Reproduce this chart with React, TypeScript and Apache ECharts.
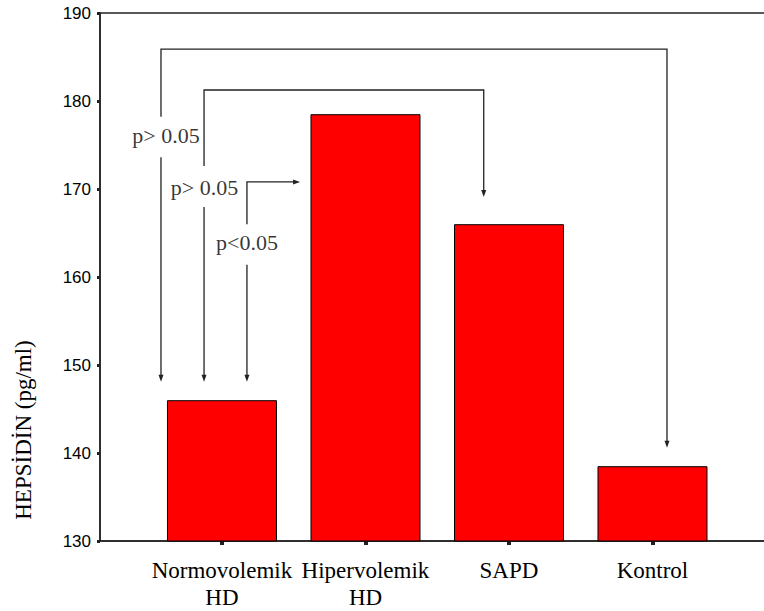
import React, { useEffect, useRef } from "react";
import * as echarts from "echarts";

// ---- Data ----
const categories = ["Normovolemik\nHD", "Hipervolemik\nHD", "SAPD", "Kontrol"];
const categoryPositions = [1, 2, 3, 4];
const hepcidin = [146, 178.5, 166, 138.5];
const yTickMin = 130;
const yTickMax = 190;
const yTickStep = 10;
const yAxisTitle = "HEPSİDİN (pg/ml)";

// ---- Comparison brackets (in data coordinates) ----
const pLabels = ["p> 0.05", "p> 0.05", "p<0.05"];
const pLabelX = [0.61, 0.878, 1.174];
const pLabelY = [176.1, 170.2, 163.9];
const bracketLeftX = [0.575, 0.875, 1.174];
const bracketRightX = [4.101, 2.824, 1.544];
const bracketTopY = [185.9, 181.25, 170.8];
const bracketLeftTipY = [148.1, 148.1, 148.1];
const bracketRightTipY = [140.6, 169.1, 170.8]; // equal to top => horizontal arrow
const gapTopY = [178.2, 172.6, 166.0];
const gapBottomY = [173.6, 167.95, 161.4];

const X_MIN = 0.15;
const X_MAX = 5.0;
const CHART_W = 830;

const LINE_COLOR = "#222";
const ARROW_LEN = 7;
const ARROW_HALF = 2.5;

function renderBracket(params: any, api: any) {
  const i = params.dataIndex;
  const top = bracketTopY[i];
  const horizontalEnd = bracketRightTipY[i] === top;
  const pGapTop = api.coord([bracketLeftX[i], gapTopY[i]]);
  const pTopL = api.coord([bracketLeftX[i], top]);
  const pTopR = api.coord([bracketRightX[i], top]);
  const pGapBot = api.coord([bracketLeftX[i], gapBottomY[i]]);
  const pTipL = api.coord([bracketLeftX[i], bracketLeftTipY[i]]);
  const children: any[] = [];
  const lineStyle = { stroke: LINE_COLOR, lineWidth: 1.3, fill: "none" };
  let upperPts: number[][];
  let rightTipPoly: number[][];
  if (horizontalEnd) {
    upperPts = [pGapTop, pTopL, [pTopR[0] - ARROW_LEN + 1, pTopR[1]]];
    rightTipPoly = [
      pTopR,
      [pTopR[0] - ARROW_LEN, pTopR[1] - ARROW_HALF],
      [pTopR[0] - ARROW_LEN, pTopR[1] + ARROW_HALF],
    ];
  } else {
    const pTipR = api.coord([bracketRightX[i], bracketRightTipY[i]]);
    upperPts = [pGapTop, pTopL, pTopR, [pTipR[0], pTipR[1] - ARROW_LEN + 1]];
    rightTipPoly = [
      pTipR,
      [pTipR[0] - ARROW_HALF, pTipR[1] - ARROW_LEN],
      [pTipR[0] + ARROW_HALF, pTipR[1] - ARROW_LEN],
    ];
  }
  children.push({ type: "polyline", shape: { points: upperPts }, style: lineStyle });
  children.push({
    type: "polyline",
    shape: { points: [pGapBot, [pTipL[0], pTipL[1] - ARROW_LEN + 1]] },
    style: lineStyle,
  });
  children.push({
    type: "polygon",
    shape: {
      points: [
        pTipL,
        [pTipL[0] - ARROW_HALF, pTipL[1] - ARROW_LEN],
        [pTipL[0] + ARROW_HALF, pTipL[1] - ARROW_LEN],
      ],
    },
    style: { fill: LINE_COLOR },
  });
  children.push({ type: "polygon", shape: { points: rightTipPoly }, style: { fill: LINE_COLOR } });
  return { type: "group", children };
}

export default function App() {
  const ref = useRef<HTMLDivElement>(null);

  useEffect(() => {
    if (!ref.current) return;
    document.documentElement.style.overflow = "hidden";
    document.body.style.overflow = "hidden";
    document.body.style.margin = "0";
    const chart = echarts.init(ref.current, null, { renderer: "svg" });
    const axisColor = "#222";
    chart.setOption({
      animation: false,
      backgroundColor: "#fff",
      grid: {
        left: 100,
        top: 13,
        bottom: 70,
        right: CHART_W - 796,
        show: true,
        borderColor: axisColor,
        borderWidth: 1.5,
        backgroundColor: "transparent",
      },
      xAxis: {
        type: "value",
        min: X_MIN,
        max: X_MAX,
        axisLine: { show: true, lineStyle: { color: axisColor, width: 1.5 } },
        axisTick: {
          show: true,
          customValues: categoryPositions,
          length: 4,
          lineStyle: { color: axisColor, width: 4 },
        },
        axisLabel: {
          show: true,
          hideOverlap: false,
          customValues: categoryPositions,
          formatter: (v: number) => categories[Math.round(v) - 1] ?? "",
          fontFamily: "Liberation Serif",
          fontSize: 23,
          lineHeight: 27,
          color: "#000",
          margin: 16,
        },
        splitLine: { show: false },
      },
      yAxis: {
        type: "value",
        min: yTickMin,
        max: yTickMax,
        interval: yTickStep,
        axisLine: { show: true, lineStyle: { color: axisColor, width: 1.5 } },
        axisTick: { show: true, length: 3, lineStyle: { color: axisColor, width: 3 } },
        axisLabel: {
          fontFamily: "Liberation Sans",
          fontSize: 17,
          color: "#000",
          margin: 9,
        },
        splitLine: { show: false },
      },
      series: [
        {
          type: "bar",
          data: categoryPositions.map((p, i) => [p, hepcidin[i]]),
          barWidth: 110,
          itemStyle: { color: "#ff0000", borderColor: "#000", borderWidth: 1 },
          silent: true,
        },
        {
          type: "custom",
          silent: true,
          clip: false,
          data: bracketLeftX.map((x, i) => [x, bracketTopY[i]]),
          renderItem: renderBracket,
        },
        {
          type: "scatter",
          symbolSize: 0,
          silent: true,
          data: pLabels.map((name, i) => ({ name, value: [pLabelX[i], pLabelY[i]] })),
          label: {
            show: true,
            position: "inside",
            formatter: "{b}",
            fontFamily: "Liberation Serif",
            fontSize: 22,
            color: "#000",
          },
        },
      ],
      graphic: [
        {
          type: "text",
          x: 23,
          y: 430,
          rotation: Math.PI / 2,
          style: {
            text: yAxisTitle,
            font: '23px "Liberation Serif"',
            fill: "#000",
            align: "center",
            verticalAlign: "middle",
            textAlign: "center",
            textVerticalAlign: "middle",
          },
        },
      ],
    });
    return () => chart.dispose();
  }, []);

  return (
    <div
      style={{
        position: "absolute",
        left: 0,
        top: 0,
        width: 764,
        height: 611,
        overflow: "hidden",
        background: "#fff",
      }}
    >
      <div ref={ref} style={{ width: CHART_W, height: 611 }} />
    </div>
  );
}
